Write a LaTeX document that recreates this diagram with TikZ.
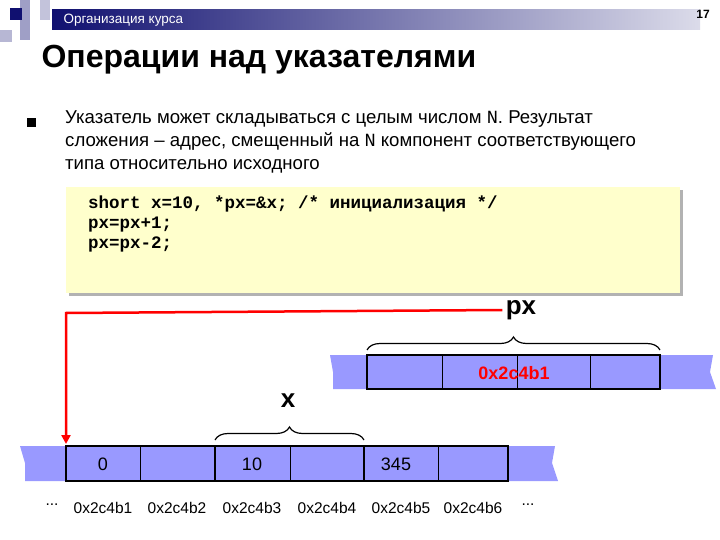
\documentclass[tikz,border=0pt]{standalone}
\usepackage{fontspec}
\setmainfont{Liberation Sans}
\setmonofont{Liberation Mono}
\usetikzlibrary{decorations.pathreplacing,arrows.meta}
\definecolor{cellblue}{RGB}{153,153,255}
\definecolor{codebg}{RGB}{255,255,204}
\definecolor{hdr}{RGB}{16,16,112}
\tikzset{
 cell/.style={draw=black,line width=0.5pt},
 bold/.style={draw=black,line width=2.2pt},
 brace/.style={decorate,decoration={brace,amplitude=13pt},line width=1.2pt},
 lbl/.style={font=\fontsize{18}{18}\selectfont},
 addr/.style={font=\fontsize{15.5}{15.5}\selectfont},
}
\begin{document}
\begin{tikzpicture}[x=1pt,y=-1pt]
\useasboundingbox (0,0) rectangle (720,540);
% header decoration
\fill[hdr!40] (20,0) rectangle (30,40);
\fill[hdr!25] (40,0) rectangle (50,20);
\fill[hdr!30] (0,30) rectangle (12,42);
\fill[hdr] (10,8) rectangle (22,20);
\shade[left color=hdr,right color=hdr!15] (52,10) rectangle (700,30);
\node[anchor=west,text=white,font=\fontsize{13.5}{13.5}\selectfont] (hd) at (60,20) {Организация курса};
\node[font=\bfseries\fontsize{12}{12}\selectfont] (pg) at (703,14) {17};
\node[anchor=west,font=\bfseries\fontsize{32}{32}\selectfont] (ttl) at (38,60) {Операции над указателями};
\fill (27,118) rectangle (36,127);
\node[anchor=north west,align=left,font=\fontsize{18.6}{23}\selectfont,inner sep=0pt] (txt) at (65,111)
 {Указатель может складываться с целым числом \texttt{N}. Результат\\сложения – адрес, смещенный на \texttt{N} компонент соответствующего\\типа относительно исходного};
% code box
\fill[gray!60] (69,190) rectangle (683,296);
\fill[codebg] (66,187) rectangle (680,293);
\node[anchor=north west,align=left,font=\ttfamily\bfseries\fontsize{17.5}{20}\selectfont,inner sep=0pt] (code) at (88,196)
 {short x=10, *px=\&x; /* инициализация */\\px=px+1;\\px=px-2;};
% upper strip
\fill[cellblue] (330,355) -- (713,355) -- (710,372) -- (716,389) -- (333,389) -- (333,372) -- cycle;
\foreach \a in {442,517,590}{\draw[cell] (\a,355) -- (\a,389);}
\draw[bold] (367,355) rectangle (660,389);
\node[text=red,font=\bfseries\fontsize{18}{18}\selectfont] (pv) at (514,373) {0x2c4b1};
\draw[brace] (367,350) -- (660,350);
\node[font=\bfseries\fontsize{26}{26}\selectfont] (px) at (521,310) {px};
% lower strip
\fill[cellblue] (20,446) -- (555,446) -- (552,463) -- (558,481) -- (25,481) -- (25,463) -- cycle;
\foreach \a in {140,290,438}{\draw[cell] (\a,446) -- (\a,481);}
\draw[bold] (66,446) rectangle (508,481);
\draw[bold] (215,446) -- (215,481);
\draw[bold] (364,446) -- (364,481);
\node[lbl] (c0) at (103,464) {0};
\node[lbl] (c1) at (252,464) {10};
\node[lbl] (c2) at (396,464) {345};
\draw[brace] (215,440) -- (364,440);
\node[font=\bfseries\fontsize{26}{26}\selectfont] (xl) at (288,401) {x};
% addresses
\foreach \t/\a [count=\i] in {0x2c4b1/103,0x2c4b2/177,0x2c4b3/252,0x2c4b4/327,0x2c4b5/401,0x2c4b6/473}{
 \node[addr] (ad\i) at (\a,508) {\t};}
\node[addr] (d1) at (52,505) {...};
\node[addr] (d2) at (528,505) {...};
% red arrow
\coordinate (tgt) at (66,444);
\coordinate (bend) at (66,313);
\draw[red,line width=2.5pt,-{Triangle[length=9pt,width=9pt]}] (px.west) -- (bend) -- (tgt);
\end{tikzpicture}
\end{document}
